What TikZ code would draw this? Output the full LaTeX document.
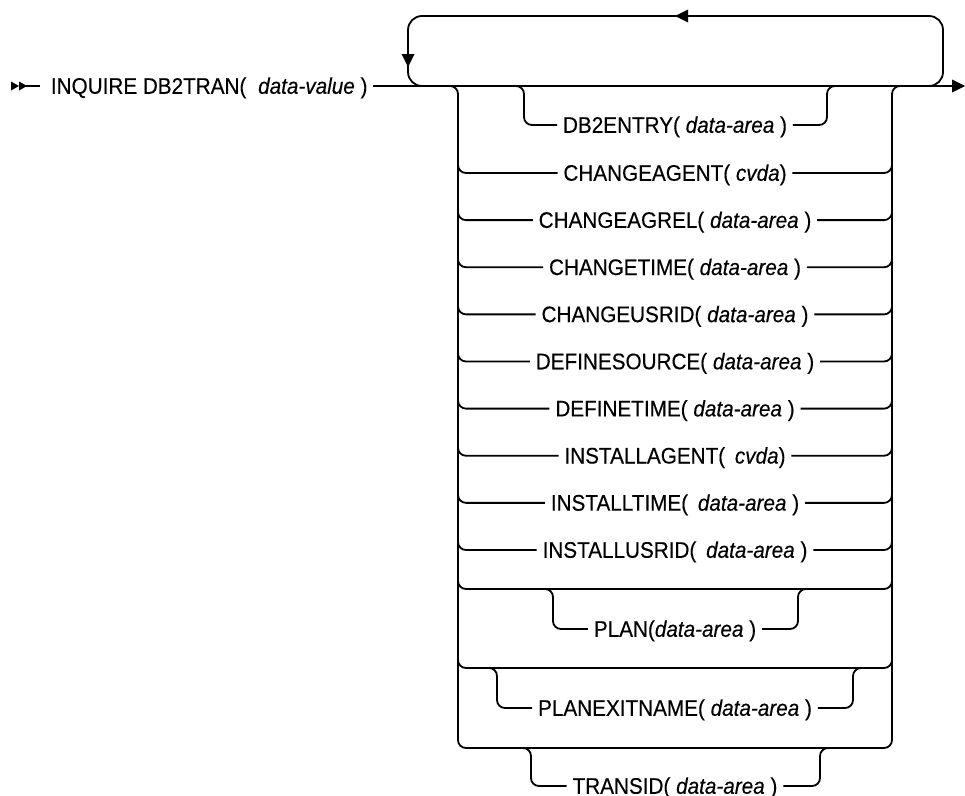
\documentclass[tikz,border=0pt]{standalone}
\usepackage{fontspec}
\setmainfont{Liberation Sans}[FakeStretch=0.92,FakeBold=0.3]
\begin{document}
\begin{tikzpicture}[x=1pt,y=-1pt,line width=1.8pt,
  rr/.style={draw,rounded corners=8pt},
  lbl/.style={font=\fontsize{22.5}{24}\selectfont,inner xsep=5pt,inner ysep=0pt,text height=18.5pt,text depth=3pt},
  tipfill/.style={fill=black,draw=none}]
\useasboundingbox (0,0) rectangle (965,795);
% start marker and main text
\coordinate (start) at (11,86);
\fill[tipfill] (start) ++(0,-4.5) -- ++(8,4.5) -- ++(-8,4.5) -- cycle;
\fill[tipfill] (19,81.5) -- (27,86) -- (19,90.5) -- cycle;
\node[lbl,anchor=west,inner xsep=0pt] (main) at (50,86) {INQUIRE DB2TRAN(\hspace{6pt} \textit{data-value} )};
\draw (25,86) -- ([xshift=-10pt]main.west);
% main line and end arrow
\coordinate (endtip) at (965,86);
\draw ([xshift=5pt]main.east) -- ([xshift=-12pt]endtip);
\fill[tipfill] (endtip) -- ++(-13,-6.5) -- ++(0,13) -- cycle;
% repeat loop
\draw[rounded corners=14pt] (900,86) -| (943,16) -| (408,86) -- (440,86);
\coordinate (looptip) at (675,16);
\fill[tipfill] (looptip) -- ++(13,-6.5) -- ++(0,13) -- cycle;
\coordinate (downtip) at (408,67);
\fill[tipfill] (downtip) -- ++(-6.5,-13) -- ++(13,0) -- cycle;
% choice box
\draw[rr] (440,86) -| (458,748) -| (892,86) -- (910,86);
% DB2ENTRY optional bracket on main line
\node[lbl] (db2) at (675,125) {DB2ENTRY( \textit{data-area} )};
\draw[rr] (505,86) -| (524,125) -- (db2.west);
\draw[rr] (db2.east) -| (827,86) -- (846,86);
% text rows
\foreach \k/\t in {
  0/{CHANGEAGENT( \textit{cvda})},
  1/{CHANGEAGREL( \textit{data-area} )},
  2/{CHANGETIME( \textit{data-area} )},
  3/{CHANGEUSRID( \textit{data-area} )},
  4/{DEFINESOURCE( \textit{data-area} )},
  5/{DEFINETIME( \textit{data-area} )},
  6/{INSTALLAGENT(\hspace{4pt} \textit{cvda})},
  7/{INSTALLTIME(\hspace{4pt} \textit{data-area} )},
  8/{INSTALLUSRID(\hspace{4pt} \textit{data-area} )}}{
  \pgfmathsetmacro{\yy}{173+47.125*\k}
  \node[lbl] (o\k) at (675,\yy) {\t};
  \draw[rr] (458,\yy-20) |- (o\k.west);
  \draw[rr] (o\k.east) -| (892,\yy-20);
}
% empty rows
\draw[rr] (458,569) |- (892,589) -- (892,569);
\draw[rr] (458,648) |- (892,668) -- (892,648);
% PLAN bracket
\node[lbl] (plan) at (675,629) {PLAN(\textit{data-area} )};
\draw[rr] (534,589) -| (553,629) -- (plan.west);
\draw[rr] (plan.east) -| (798,589) -- (817,589);
% PLANEXITNAME bracket
\node[lbl] (pexit) at (675,708) {PLANEXITNAME( \textit{data-area} )};
\draw[rr] (478,668) -| (497,708) -- (pexit.west);
\draw[rr] (pexit.east) -| (853,668) -- (872,668);
% TRANSID bracket
\node[lbl] (trans) at (675,786) {TRANSID( \textit{data-area} )};
\draw[rr] (512,748) -| (531,786) -- (trans.west);
\draw[rr] (trans.east) -| (820,748) -- (839,748);
\end{tikzpicture}
\end{document}
